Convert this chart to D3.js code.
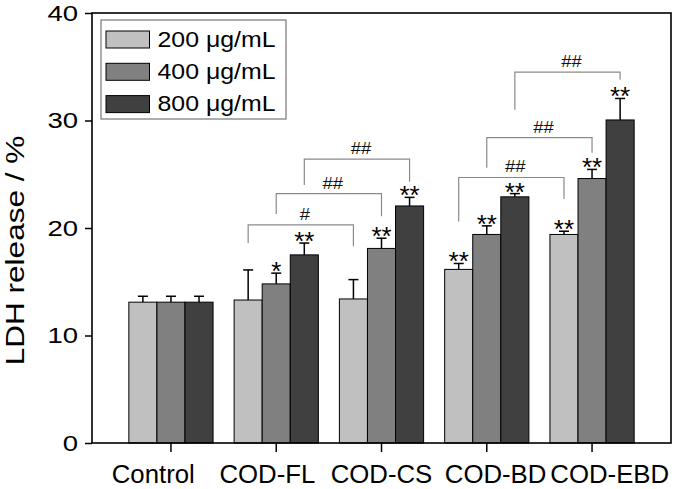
<!DOCTYPE html>
<html>
<head>
<meta charset="utf-8">
<script src="https://cdn.jsdelivr.net/npm/d3@7"></script>
<style>
  html, body { margin: 0; padding: 0; background: #fff; }
  svg { display: block; font-family: "Liberation Sans", Arial, sans-serif; }
</style>
</head>
<body>
<svg id="chart" width="675" height="489"></svg>
<script>
// ---------- data ----------
const categories = ["Control", "COD-FL", "COD-CS", "COD-BD", "COD-EBD"];
const seriesNames = ["200 \u03bcg/mL", "400 \u03bcg/mL", "800 \u03bcg/mL"];
const values200 = [13.1, 13.3, 13.4, 16.15, 19.4];
const values400 = [13.1, 14.8, 18.1, 19.4, 24.6];
const values800 = [13.1, 17.5, 22.05, 22.9, 30.05];
const err200 = [0.55, 2.8, 1.8, 0.55, 0.3];
const err400 = [0.55, 1.0, 0.95, 0.8, 0.85];
const err800 = [0.55, 1.1, 0.8, 0.3, 2.0];
const sig200 = ["", "", "", "**", "**"];
const sig400 = ["", "*", "**", "**", "**"];
const sig800 = ["", "**", "**", "**", "**"];
const yTicks = [0, 10, 20, 30, 40];
// brackets: [group, series] -> [group, series], bracket level and leg ends (data units)
const brackets = [
  { from: [1, 0], to: [2, 0], top: 20.3, legL: 18.6, legR: 18.3, label: "#" },
  { from: [1, 1], to: [2, 1], top: 23.2, legL: 21.3, legR: 21.1, label: "##" },
  { from: [1, 2], to: [2, 2], top: 26.4, legL: 24.0, legR: 24.3, label: "##" },
  { from: [3, 0], to: [4, 0], top: 24.7, legL: 20.6, legR: 22.7, label: "##" },
  { from: [3, 1], to: [4, 1], top: 28.4, legL: 25.6, legR: 27.0, label: "##" },
  { from: [3, 2], to: [4, 2], top: 34.5, legL: 31.0, legR: 33.8, label: "##" }
];

const values = [values200, values400, values800];
const errs = [err200, err400, err800];
const sigs = [sig200, sig400, sig800];
const colors = ["#c0c0c0", "#808080", "#404040"];

// ---------- layout ----------
const W = 675, H = 489;
const m = { left: 92, top: 13, right: 4, bottom: 46 };
const svg = d3.select("#chart");

const x0 = d3.scaleBand().domain(categories)
  .range([m.left, W - m.right]).paddingInner(0.2).paddingOuter(0.35);
const x1 = d3.scaleBand().domain(d3.range(seriesNames.length))
  .range([0, x0.bandwidth()]).padding(0);
const y = d3.scaleLinear().domain([0, 40]).range([H - m.bottom, m.top]);

function stretch(sel, f) {
  sel.each(function () {
    const w = this.getComputedTextLength();
    this.setAttribute("textLength", w * f);
    this.setAttribute("lengthAdjust", "spacingAndGlyphs");
  });
}
const barCenter = (g, s) => x0(categories[g]) + x1(s) + x1.bandwidth() / 2;

// ---------- bars ----------
const rows = [];
categories.forEach((c, g) => seriesNames.forEach((s, i) => rows.push({ g, i, c,
  v: values[i][g], e: errs[i][g], sig: sigs[i][g] })));

const eb = svg.append("g").attr("stroke", "#000").attr("stroke-width", 1.5);
rows.forEach(d => {
  const cx = barCenter(d.g, d.i);
  eb.append("line").attr("x1", cx).attr("x2", cx)
    .attr("y1", y(d.v)).attr("y2", y(d.v + d.e));
  eb.append("line").attr("x1", cx - 5).attr("x2", cx + 5)
    .attr("y1", y(d.v + d.e)).attr("y2", y(d.v + d.e));
});

svg.append("g").selectAll("rect").data(rows).join("rect")
  .attr("x", d => x0(d.c) + x1(d.i))
  .attr("width", x1.bandwidth())
  .attr("y", d => y(d.v))
  .attr("height", d => y(0) - y(d.v))
  .attr("fill", d => colors[d.i])
  .attr("stroke", "#000").attr("stroke-width", 1);

// significance asterisks
svg.append("g").selectAll("text").data(rows.filter(d => d.sig)).join("text")
  .attr("x", d => barCenter(d.g, d.i))
  .attr("y", d => y(d.v + d.e) + 7)
  .attr("text-anchor", "middle")
  .attr("font-size", 26)
  .attr("fill", "#000")
  .text(d => d.sig);

// brackets
const bg = svg.append("g");
brackets.forEach(b => {
  const xl = barCenter(b.from[0], b.from[1]);
  const xr = barCenter(b.to[0], b.to[1]);
  bg.append("path")
    .attr("d", `M${xl},${y(b.legL)}V${y(b.top)}H${xr}V${y(b.legR)}`)
    .attr("fill", "none").attr("stroke", "#8a8a8a").attr("stroke-width", 1.2);
  bg.append("text")
    .attr("x", (xl + xr) / 2 + 4).attr("y", y(b.top) - 5)
    .attr("text-anchor", "middle").attr("font-size", 16).attr("fill", "#111")
    .text(b.label)
    .call(stretch, 1.15);
});

// ---------- axes ----------
const yAxis = svg.append("g").attr("transform", `translate(${m.left},0)`)
  .call(d3.axisLeft(y).tickValues(yTicks).tickSize(7).tickPadding(7).tickFormat(d3.format("d")));
yAxis.select(".domain").remove();
yAxis.selectAll("line").attr("stroke", "#000").attr("stroke-width", 1.5);
yAxis.selectAll("text").attr("font-size", 22).attr("fill", "#000")
  .attr("font-family", "'Liberation Sans', Arial, sans-serif").call(stretch, 1.25);

const xAxis = svg.append("g").attr("transform", `translate(0,${H - m.bottom})`)
  .call(d3.axisBottom(x0).tickSize(9).tickFormat(""));
xAxis.select(".domain").remove();
xAxis.selectAll("line").attr("stroke", "#000").attr("stroke-width", 1.5);

// category labels (spread slightly wider than the ticks, as in the reference)
const cxMid = (m.left + W - m.right) / 2;
const spread = 1.084;
svg.append("g").selectAll("text").data(categories).join("text")
  .attr("x", c => cxMid + (x0(c) + x0.bandwidth() / 2 - cxMid) * spread)
  .attr("y", 483)
  .attr("text-anchor", "middle").attr("font-size", 25).attr("fill", "#000")
  .text(c => c)
  .call(stretch, 1.03);

// frame
svg.append("rect")
  .attr("x", m.left).attr("y", m.top)
  .attr("width", W - m.right - m.left).attr("height", H - m.bottom - m.top)
  .attr("fill", "none").attr("stroke", "#000").attr("stroke-width", 1.6);

// y title
svg.append("text")
  .attr("transform", "translate(24,250.5) rotate(-90)")
  .attr("text-anchor", "middle").attr("font-size", 26.5).attr("fill", "#000")
  .text("LDH release / %")
  .call(stretch, 1.19);

// ---------- legend ----------
const lg = svg.append("g").attr("transform", "translate(101,20)");
lg.append("rect").attr("width", 185).attr("height", 99)
  .attr("fill", "#fff").attr("stroke", "#777").attr("stroke-width", 1.2);
seriesNames.forEach((s, i) => {
  const row = lg.append("g").attr("transform", `translate(0,${11 + i * 32.3})`);
  row.append("rect").attr("x", 5).attr("width", 43.5).attr("height", 17)
    .attr("fill", colors[i]).attr("stroke", "#000").attr("stroke-width", 1);
  row.append("text").attr("x", 56.5).attr("y", 15.7)
    .attr("font-size", 22).attr("fill", "#000").text(s)
    .call(stretch, 1.13);
});
</script>
</body>
</html>
